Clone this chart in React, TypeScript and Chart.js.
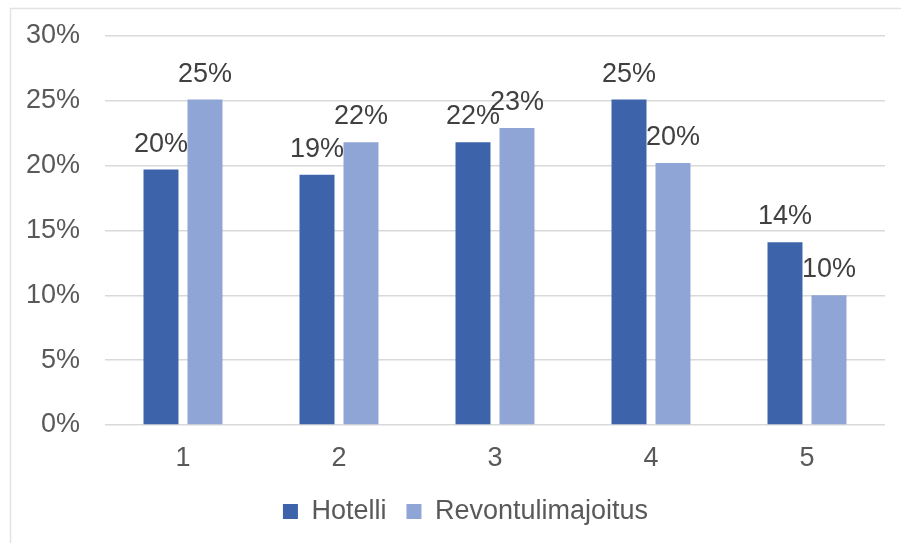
import React, { useEffect, useRef } from "react";
import { Chart, registerables } from "chart.js";

Chart.register(...registerables);

const categories = ["1", "2", "3", "4", "5"];
const hotelli = [19.7, 19.3, 21.8, 25.1, 14.1];
const revontulimajoitus = [25.1, 21.8, 22.9, 20.2, 10.0];
const seriesNames = ["Hotelli", "Revontulimajoitus"];
const yMax = 30;
const yStep = 5;

const FONT = "'Liberation Sans', Arial, sans-serif";
const FS = 27;

const framePlugin = {
  id: "frame",
  beforeDraw(chart: any) {
    const ctx = chart.ctx;
    ctx.save();
    ctx.strokeStyle = "#e3e3e3";
    ctx.lineWidth = 1.5;
    ctx.beginPath();
    ctx.moveTo(10.5, 560);
    ctx.lineTo(10.5, 8.5);
    ctx.lineTo(920, 8.5);
    ctx.stroke();
    ctx.restore();
  },
};

const legendShiftPlugin = {
  id: "legendShift",
  afterLayout(chart: any) {
    const lg = chart.legend;
    if (lg) {
      lg.left += 23;
      lg.right += 23;
    }
  },
};

const labelPlugin = {
  id: "barLabels",
  afterDatasetsDraw(chart: any) {
    const ctx = chart.ctx;
    ctx.save();
    ctx.font = `${FS}px ${FONT}`;
    ctx.fillStyle = "#404040";
    ctx.textAlign = "center";
    ctx.textBaseline = "alphabetic";
    chart.data.datasets.forEach((ds: any, i: number) => {
      const meta = chart.getDatasetMeta(i);
      meta.data.forEach((el: any, j: number) => {
        const v = ds.data[j] as number;
        ctx.fillText(Math.round(v) + "%", el.x, el.y - 18);
      });
    });
    ctx.restore();
  },
};

export default function App() {
  const ref = useRef<HTMLCanvasElement | null>(null);
  useEffect(() => {
    if (!ref.current) return;
    const chart = new Chart(ref.current, {
      type: "bar",
      data: {
        labels: categories,
        datasets: [
          {
            label: seriesNames[0],
            data: hotelli,
            backgroundColor: "#3D64AA",
            categoryPercentage: 0.564,
            barPercentage: 0.795,
          },
          {
            label: seriesNames[1],
            data: revontulimajoitus,
            backgroundColor: "#8FA5D5",
            categoryPercentage: 0.564,
            barPercentage: 0.795,
          },
        ],
      },
      options: {
        responsive: false,
        animation: false,
        layout: { padding: { left: 0, top: 36, right: 16, bottom: 8 } },
        plugins: {
          tooltip: { enabled: false },
          legend: {
            position: "bottom",
            labels: {
              font: { family: FONT, size: FS },
              color: "#595959",
              boxWidth: 15,
              boxHeight: 15,
              padding: 20,
            },
          },
        },
        scales: {
          x: {
            grid: { display: false },
            border: { display: false },
            ticks: { font: { family: FONT, size: FS }, color: "#595959", padding: 9 },
            afterFit(scale: any) {
              scale.height = 53;
              scale.paddingLeft = 0;
              scale.paddingRight = 0;
            },
          },
          y: {
            min: 0,
            max: yMax,
            ticks: {
              stepSize: yStep,
              font: { family: FONT, size: FS },
              color: "#595959",
              padding: 25,
              callback: (v: any) => v + "%",
            },
            grid: { color: "#d9d9d9", lineWidth: 1.5, drawTicks: false },
            border: { display: false },
            afterFit(scale: any) {
              scale.width = 105;
              scale.paddingTop = 0;
              scale.paddingBottom = 0;
            },
          },
        },
      },
      plugins: [framePlugin, legendShiftPlugin, labelPlugin],
    });
    return () => chart.destroy();
  }, []);
  return (
    <div style={{ position: "absolute", left: 0, top: 0, width: 901, height: 543, background: "#fff" }}>
      <canvas ref={ref} width={901} height={543} />
    </div>
  );
}
